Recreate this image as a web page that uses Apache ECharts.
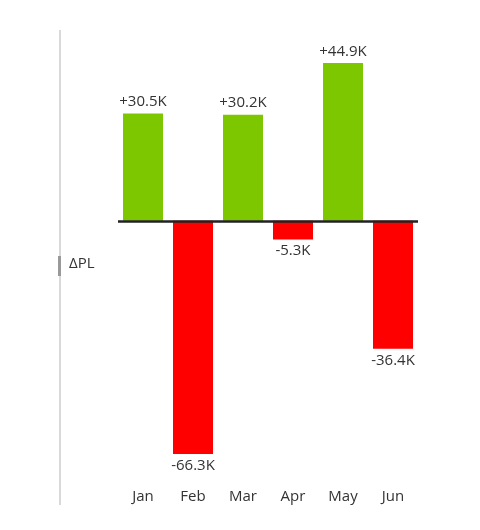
<!DOCTYPE html>
<html>
<head>
<meta charset="utf-8">
<script src="https://cdn.jsdelivr.net/npm/echarts@6/dist/echarts.min.js"></script>
<style>html,body{margin:0;background:#fff}#root{width:480px;height:530px}</style>
</head>
<body>
<div id="root"></div>
<script>
const months = ['Jan', 'Feb', 'Mar', 'Apr', 'May', 'Jun']
const deltaPL = [30.5, -66.3, 30.2, -5.3, 44.9, -36.4]

const chart = echarts.init(document.getElementById('root'))
const fmt = v => (v > 0 ? '+' : '') + v.toFixed(1) + 'K'

chart.setOption({
    animation: false,
    grid: { left: 118, right: 62, top: 45, bottom: 63 },
    xAxis: {
        type: 'category',
        data: months,
        axisLine: { show: false },
        axisTick: { show: false },
        axisLabel: { margin: 22, fontSize: 15, color: '#333', fontFamily: 'Open Sans' }
    },
    yAxis: { type: 'value', min: -70, max: 50, show: false, splitLine: { show: false } },
    graphic: [
        { type: 'line', shape: { x1: 60, y1: 30, x2: 60, y2: 505 }, style: { stroke: '#ccc', lineWidth: 1.5 } },
        { type: 'rect', shape: { x: 58, y: 256, width: 3, height: 20 }, style: { fill: '#999' } },
        { type: 'text', left: 69, top: 256, style: { text: 'ΔPL', fontSize: 15, fill: '#333', fontFamily: 'Open Sans' } }
    ],
    series: [{
        type: 'bar',
        barWidth: 40,
        data: deltaPL.map(v => ({ value: v, itemStyle: { color: v >= 0 ? '#7dc700' : '#ff0000' } })),
        label: {
            show: true,
            formatter: p => fmt(p.value),
            fontSize: 15,
            color: '#333',
            fontFamily: 'Open Sans',
            distance: 4,
            position: 'top'
        },
        labelLayout: p => null,
        markLine: {
            symbol: 'none',
            silent: true,
            label: { show: false },
            lineStyle: { color: '#222', width: 2.5, type: 'solid' },
            data: [{ yAxis: 0 }]
        }
    }]
})
// negative bars: label below
chart.setOption({
    series: [{
        data: deltaPL.map(v => ({
            value: v,
            itemStyle: { color: v >= 0 ? '#7dc700' : '#ff0000' },
            label: { position: v >= 0 ? 'top' : 'bottom' }
        }))
    }]
})
</script>
</body>
</html>
